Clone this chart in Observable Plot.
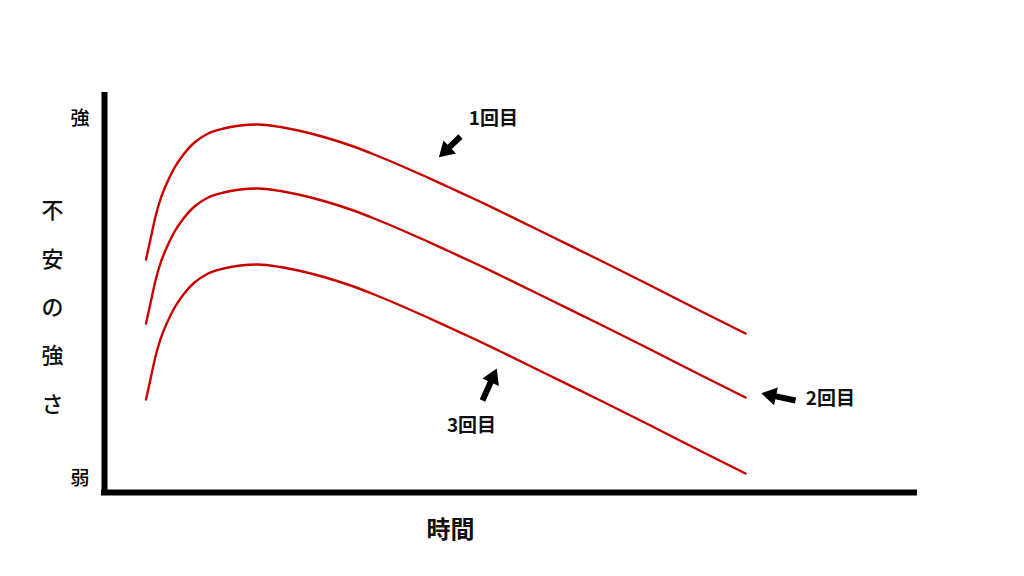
<!DOCTYPE html>
<html>
<head>
<meta charset="utf-8">
<script src="https://cdn.jsdelivr.net/npm/d3@7"></script>
<script src="https://cdn.jsdelivr.net/npm/@observablehq/plot@0.6"></script>
<style>
  html, body { margin: 0; padding: 0; background: #fff; }
  #chart svg { display: block; }
</style>
</head>
<body>
<div id="chart"></div>
<script>
// Time positions (0 = y-axis, 100 = end of x-axis)
const time = [5.11, 5.67, 6.28, 6.9, 7.72, 8.53, 9.77, 11.0, 12.65, 14.69, 16.75, 18.97, 21.67, 24.14, 27.22, 30.3, 33.37, 36.45, 39.53, 42.61, 45.69, 48.77, 54.93, 61.08, 67.24, 73.4, 78.94];
// Anxiety strength (0 = 弱, 100 = top of axis)
const first  = [58.25, 63.375, 69, 73.375, 77.5, 80.875, 84.625, 87.375, 89.625, 91, 91.75, 92, 91.375, 90.375, 88.75, 86.75, 84.375, 81.75, 79, 76.125, 73.25, 70.25, 64.125, 58, 51.75, 45.375, 39.75];
const second = [42.25, 47.375, 53, 57.375, 61.5, 64.875, 68.625, 71.375, 73.625, 75, 75.75, 76, 75.375, 74.375, 72.75, 70.75, 68.375, 65.75, 63, 60.125, 57.25, 54.25, 48.125, 42, 35.75, 29.375, 23.75];
const third  = [23.25, 28.375, 34, 38.375, 42.5, 45.875, 49.625, 52.375, 54.625, 56, 56.75, 57, 56.375, 55.375, 53.75, 51.75, 49.375, 46.75, 44, 41.125, 38.25, 35.25, 29.125, 23, 16.75, 10.375, 4.75];
const seriesNames = ["1回目", "2回目", "3回目"];

// Y tick labels
const yTickValues = [93.5, 3.5];
const yTickLabels = ["強", "弱"];
const yLabel = "不安の強さ";
const xLabel = "時間";

// Annotation labels and arrows
const noteText = ["1回目", "2回目", "3回目"];
const noteX = [47.9, 89.4, 45.2];
const noteY = [93.5, 23.5, 16.75];
const arrowX = [43.84, 85.1, 46.55];
const arrowY = [89, 23, 23];
const arrowLen = [30, 35, 35];
const arrowAngle = [226, 282, 24];

const rows = time.flatMap((t, i) => [
  {t, v: first[i], s: seriesNames[0]},
  {t, v: second[i], s: seriesNames[1]},
  {t, v: third[i], s: seriesNames[2]}
]);
const notes = noteText.map((text, i) => ({text, x: noteX[i], y: noteY[i]}));
const arrows = arrowX.map((x, i) => ({x, y: arrowY[i], len: arrowLen[i], angle: arrowAngle[i]}));
const tickMap = new Map(yTickValues.map((v, i) => [v, yTickLabels[i]]));

const blockArrow = {
  draw(context, l) {
    const h = 15, hw = 9, sw = 3;
    context.moveTo(-sw, 0);
    context.lineTo(-sw, -(l - h));
    context.lineTo(-hw, -(l - h));
    context.lineTo(0, -l);
    context.lineTo(hw, -(l - h));
    context.lineTo(sw, -(l - h));
    context.lineTo(sw, 0);
    context.closePath();
  }
};

const font = "'Noto Sans CJK JP', 'Noto Sans', sans-serif";

const chart = Plot.plot({
  width: 1024,
  height: 576,
  marginTop: 92,
  marginBottom: 84,
  marginLeft: 104,
  marginRight: 108,
  style: {fontFamily: font, background: "#fff", color: "#000"},
  x: {domain: [0, 100], axis: null},
  y: {domain: [0, 100]},
  length: {domain: [0, 50], range: [0, 50]},
  marks: [
    Plot.axisY(yTickValues, {
      tickFormat: d => tickMap.get(d),
      tickSize: 0,
      tickPadding: 15,
      fontSize: 19,
      fontWeight: 500,
      label: null
    }),
    Plot.line(rows, {x: "t", y: "v", z: "s", stroke: "#c80000", strokeWidth: 2.4, curve: "monotone-x"}),
    Plot.ruleX([0], {y1: -0.75, y2: 100, stroke: "#000", strokeWidth: 6}),
    Plot.ruleY([0], {x1: -0.37, x2: 100.12, stroke: "#000", strokeWidth: 6}),
    Plot.text(notes, {x: "x", y: "y", text: "text", fontSize: 19, fontWeight: "bold", fill: "#111"}),
    Plot.vector(arrows, {x: "x", y: "y", length: "len", rotate: "angle", anchor: "start", shape: blockArrow, fill: "#000", stroke: "none"}),
    Plot.text([yLabel], {x: -6.4, y: 48.25, text: d => d.split("").join("\n"), lineHeight: 2.2, fontSize: 22, fontWeight: 500, fill: "#111"}),
    Plot.text([xLabel], {x: 42.6, y: -9.5, text: d => d, fontSize: 24, fontWeight: "bold", fill: "#111"})
  ]
});
document.getElementById("chart").appendChild(chart);
</script>
</body>
</html>
